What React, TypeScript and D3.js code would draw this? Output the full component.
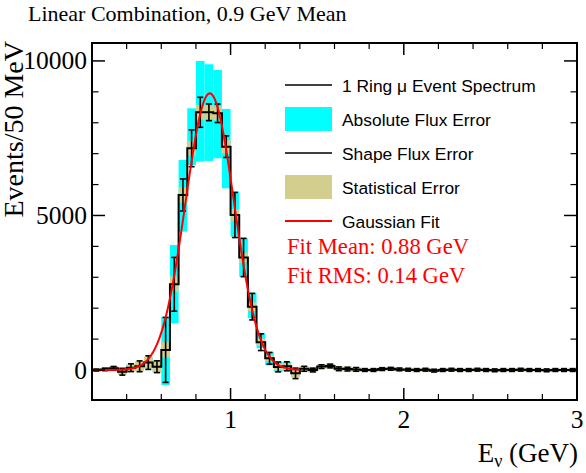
import React from 'react';
import * as d3 from 'd3';

// ---- data ----
const BIN_START = 0.2; // GeV
const BIN_WIDTH = 0.05; // GeV
const counts = [
  0, 20, 55, -55, 75, 120, 240, 107, 650, 2773,
  5663, 7173, 8338, 8338, 8306, 7227, 5016, 3640, 2050, 900,
  380, 100, 120, -108, 40, 0, 110, 130, 40, 30,
  20, 0, 0, 30, 40, 20, 10, 0, 10, -20,
  0, 10, 0, 0, 10, 0, -10, 0, 0, 10,
  0, 0, -10, 0, 0, 0,
];
const shapeErr = [
  30, 40, 60, 110, 125, 175, 220, 190, 1050, 870,
  520, 595, 485, 270, 300, 350, 730, 620, 430, 270,
  190, 160, 145, 170, 80, 60, 60, 60, 60, 60,
  60, 45, 45, 45, 45, 45, 45, 45, 45, 45,
  45, 45, 45, 45, 45, 45, 45, 45, 45, 45,
  45, 45, 45, 45, 45, 45,
];
const statErr = [
  60, 60, 70, 100, 120, 160, 190, 210, 250, 250,
  250, 240, 240, 230, 220, 215, 190, 160, 140, 120,
  110, 110, 110, 120, 90, 80, 80, 80, 80, 80,
  80, 50, 50, 50, 50, 50, 50, 50, 50, 50,
  50, 50, 50, 50, 50, 50, 50, 50, 50, 50,
  50, 50, 50, 50, 50, 50,
];
const absErrUp = [
  30, 30, 55, 75, 115, 150, 180, 170, 1075, 1272,
  1133, 1295, 1662, 1554, 1403, 1220, 755, 622, 440, 300,
  200, 160, 140, 138, 80, 40, 40, 40, 40, 40,
  40, 40, 40, 40, 40, 40, 40, 40, 40, 40,
  40, 40, 40, 40, 40, 40, 40, 40, 40, 40,
  40, 40, 40, 40, 40, 40,
];
const absErrDown = [
  30, 30, 55, 75, 115, 150, 180, 170, 1135, 1263,
  1186, 539, 1596, 1574, 1456, 1347, 701, 620, 370, 190,
  230, 160, 140, 132, 80, 40, 40, 40, 40, 40,
  40, 40, 40, 40, 40, 40, 40, 40, 40, 40,
  40, 40, 40, 40, 40, 40, 40, 40, 40, 40,
  40, 40, 40, 40, 40, 40,
];
const fitMean = 0.88;
const fitSigma = 0.14;
const fitAmp = 8950;
const fitRange = [0.2, 1.4];

const xDomain = [0.2, 3.0];
const yDomain = [-970, 10580];
const xMajorTicks = [1, 2, 3];
const xMinorTicks = [0.2, 0.4, 0.6, 0.8, 1.2, 1.4, 1.6, 1.8, 2.2, 2.4, 2.6, 2.8];
const yMajorTicks = [0, 5000, 10000];
const yMinorTicks = [1000, 2000, 3000, 4000, 6000, 7000, 8000, 9000];

const legendItems = [
  { label: '1 Ring \u03BC Event Spectrum', kind: 'line', color: '#000000' },
  { label: 'Absolute Flux Error', kind: 'box', color: '#00ffff' },
  { label: 'Shape Flux Error', kind: 'line', color: '#000000' },
  { label: 'Statistical Error', kind: 'box', color: '#d3cd8e' },
  { label: 'Gaussian Fit', kind: 'line', color: '#ff0000' },
];
const fitTexts = ['Fit Mean: 0.88 GeV', 'Fit RMS: 0.14 GeV'];

const W = 586;
const H = 473;
const L = 92, R = 577, T = 43, B = 400;
const SERIF = '"Liberation Serif", "Times New Roman", serif';
const SANS = '"Liberation Sans", Arial, sans-serif';

export default function App() {
  const x = d3.scaleLinear().domain(xDomain).range([L, R]);
  const y = d3.scaleLinear().domain(yDomain).range([B, T]);

  const bins = counts.map((v, i) => {
    const lo = BIN_START + i * BIN_WIDTH;
    return { i, v, x0: x(lo), x1: x(lo + BIN_WIDTH), xc: x(lo + BIN_WIDTH / 2) };
  });

  let step = '';
  bins.forEach((b, i) => {
    step += (i === 0 ? `M${b.x0},${y(b.v)}` : `L${b.x0},${y(b.v)}`) + `L${b.x1},${y(b.v)}`;
  });

  const fitPts = d3.range(0, 301).map((k) => fitRange[0] + (k / 300) * (fitRange[1] - fitRange[0]));
  const fitLine = d3
    .line<number>()
    .x((e) => x(e))
    .y((e) => y(fitAmp * Math.exp(-0.5 * ((e - fitMean) / fitSigma) ** 2)))(fitPts);

  const cap = 3;
  const legX0 = 285, legX1 = 332, legTextX = 342, legY0 = 85, legDy = 34;

  return (
    <svg width={W} height={H} style={{ position: 'absolute', left: 0, top: 0, background: '#fff' }}>
      <rect x={0} y={0} width={W} height={H} fill="#fff" />
      <defs>
        <clipPath id="plotclip">
          <rect x={L} y={T} width={R - L} height={B - T} />
        </clipPath>
      </defs>
      <text x={28} y={21} fontFamily={SERIF} fontSize={22} fill="#000">
        Linear Combination, 0.9 GeV Mean
      </text>

      <g clipPath="url(#plotclip)">
        {bins.map((b) => (
          <rect key={'a' + b.i} x={b.x0} width={b.x1 - b.x0} y={y(b.v + absErrUp[b.i])}
            height={y(b.v - absErrDown[b.i]) - y(b.v + absErrUp[b.i])} fill="#00ffff" />
        ))}
        {bins.map((b) => (
          <rect key={'s' + b.i} x={b.x0} width={b.x1 - b.x0} y={y(b.v + statErr[b.i])}
            height={y(b.v - statErr[b.i]) - y(b.v + statErr[b.i])} fill="#d3cd8e" />
        ))}
        <path d={step} fill="none" stroke="#000" strokeWidth={2} />
        {bins.map((b) => {
          const yt = y(b.v + shapeErr[b.i]);
          const yb = y(b.v - shapeErr[b.i]);
          return (
            <g key={'e' + b.i} stroke="#000" strokeWidth={1.6}>
              <line x1={b.xc} x2={b.xc} y1={yt} y2={yb} />
              <line x1={b.xc - cap} x2={b.xc + cap} y1={yt} y2={yt} />
              <line x1={b.xc - cap} x2={b.xc + cap} y1={yb} y2={yb} />
            </g>
          );
        })}
        <path d={fitLine || ''} fill="none" stroke="#ff0000" strokeWidth={2} />
      </g>

      <rect x={L} y={T} width={R - L} height={B - T} fill="none" stroke="#000" strokeWidth={2} />
      {xMajorTicks.map((t) => (
        <g key={'xM' + t} stroke="#000" strokeWidth={1.5}>
          <line x1={x(t)} x2={x(t)} y1={B} y2={B - 12} />
          <line x1={x(t)} x2={x(t)} y1={T} y2={T + 12} />
        </g>
      ))}
      {xMinorTicks.map((t) => (
        <g key={'xm' + t} stroke="#000" strokeWidth={1.2}>
          <line x1={x(t)} x2={x(t)} y1={B} y2={B - 6} />
          <line x1={x(t)} x2={x(t)} y1={T} y2={T + 6} />
        </g>
      ))}
      {yMajorTicks.map((t) => (
        <g key={'yM' + t} stroke="#000" strokeWidth={1.5}>
          <line x1={L} x2={L + 13} y1={y(t)} y2={y(t)} />
          <line x1={R} x2={R - 13} y1={y(t)} y2={y(t)} />
        </g>
      ))}
      {yMinorTicks.map((t) => (
        <g key={'ym' + t} stroke="#000" strokeWidth={1.2}>
          <line x1={L} x2={L + 6.5} y1={y(t)} y2={y(t)} />
          <line x1={R} x2={R - 6.5} y1={y(t)} y2={y(t)} />
        </g>
      ))}
      {xMajorTicks.map((t) => (
        <text key={'xl' + t} x={x(t)} y={428} textAnchor="middle" fontFamily={SERIF} fontSize={25.5} fill="#000">
          {t}
        </text>
      ))}
      {yMajorTicks.map((t) => (
        <text key={'yl' + t} x={87} y={y(t) + 8.5} textAnchor="end" fontFamily={SERIF} fontSize={25.5} fill="#000">
          {t}
        </text>
      ))}
      <text transform={`translate(23,${T - 2}) rotate(-90)`} textAnchor="end" fontFamily={SERIF} fontSize={28} fill="#000">
        Events/50 MeV
      </text>
      <text x={578} y={462} textAnchor="end" fontFamily={SERIF} fontSize={27} fill="#000">
        E<tspan fontSize={18} dy={5}>{'\u03BD'}</tspan>
        <tspan dy={-5}> (GeV)</tspan>
      </text>

      {legendItems.map((it, k) => {
        const cy = legY0 + k * legDy;
        return (
          <g key={'lg' + k}>
            {it.kind === 'line' ? (
              <line x1={legX0} x2={legX1} y1={cy} y2={cy} stroke={it.color} strokeWidth={it.color === '#ff0000' ? 2 : 1.5} />
            ) : (
              <rect x={legX0} y={cy - 12} width={legX1 - legX0} height={24} fill={it.color} />
            )}
            <text x={legTextX} y={cy + 7} fontFamily={SANS} fontSize={17.4} fill="#000">
              {it.label}
            </text>
          </g>
        );
      })}
      {fitTexts.map((t, k) => (
        <text key={'ft' + k} x={287} y={254 + k * 29} fontFamily={SERIF} fontSize={22.6} fill="#ff0000">
          {t}
        </text>
      ))}
    </svg>
  );
}
